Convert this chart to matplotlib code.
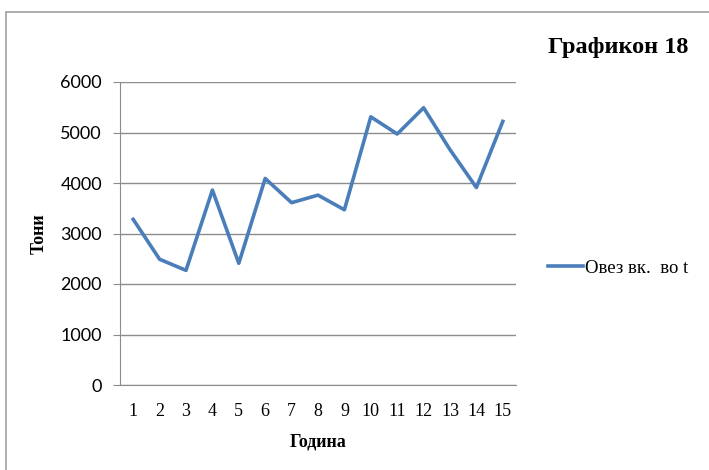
import numpy as np
import matplotlib
matplotlib.use('Agg')
import matplotlib.pyplot as plt
from matplotlib.patches import Rectangle

years = list(range(1, 16))
oats = [3280, 2490, 2270, 3860, 2410, 4090, 3610, 3760, 3470,
        5310, 4970, 5490, 4660, 3910, 5220]
yticks = [0, 1000, 2000, 3000, 4000, 5000, 6000]

serif = 'Liberation Serif'
sans = 'Lato'

fig = plt.figure(figsize=(7.09, 4.70), dpi=100)
ax = fig.add_axes([120/709, 85/470, 396/709, 303/470])

# outer chart frame (cropped at right and bottom)
fig.patches.append(Rectangle((6/709, -0.1), 1.2, (470-12)/470 + 0.1,
                             transform=fig.transFigure, fill=False,
                             edgecolor='#a0a0a0', linewidth=1.2))

ax.plot(years, oats, color='#4a7ebb', linewidth=2.6, label='Овез вк.  во t')

ax.set_xlim(0.5, 15.5)
ax.set_ylim(0, 6000)
ax.set_yticks(yticks)
ax.set_xticks(years)
ax.grid(axis='y', color='#8c8c8c', linewidth=1.0)
ax.set_axisbelow(True)
for s in ['top', 'right']:
    ax.spines[s].set_visible(False)
ax.spines['left'].set_color('#8c8c8c')
ax.spines['bottom'].set_color('#8c8c8c')
ax.tick_params(axis='y', length=5, color='#8c8c8c', pad=8, labelsize=13)
ax.tick_params(axis='x', length=0, pad=13, labelsize=13)
for t in ax.get_yticklabels():
    t.set_family(sans)
for t in ax.get_xticklabels():
    t.set_family(serif)

ax.set_xlabel('Година', family=serif, fontweight='bold', fontsize=13, labelpad=10)
ax.set_ylabel('Тони', family=serif, fontweight='bold', fontsize=13, labelpad=9)

fig.text(618/709, 1 - 47/470, 'Графикон 18', family=serif, fontweight='bold',
         fontsize=17.5, ha='center', va='center')

ax.legend(loc='center left', bbox_to_anchor=(548/709, 1 - 268/470),
          bbox_transform=fig.transFigure, frameon=False,
          prop={'family': serif, 'size': 13.5}, handlelength=1.85,
          handletextpad=0.1, borderaxespad=0, borderpad=0)

fig.savefig('out.png', dpi=100)
